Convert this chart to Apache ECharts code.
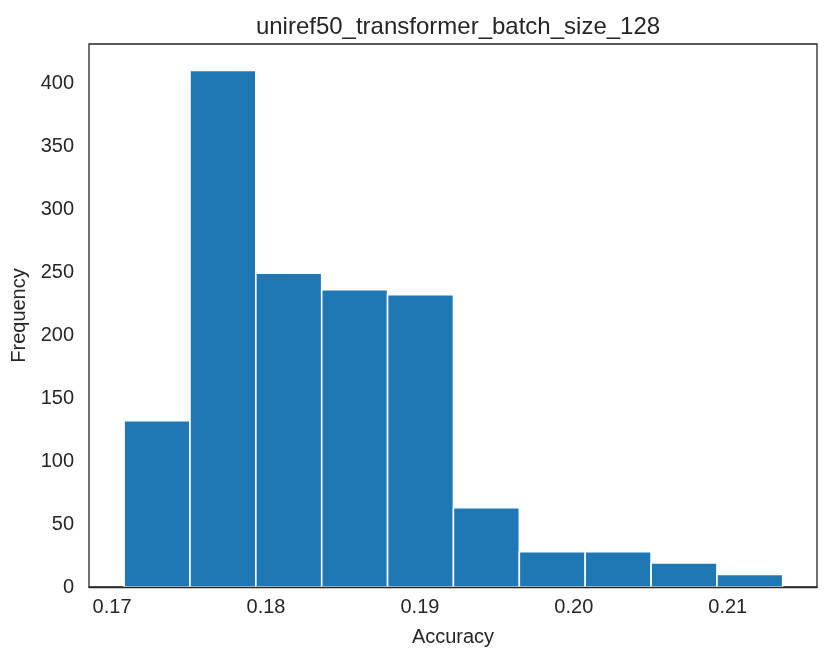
<!DOCTYPE html>
<html>
<head>
<meta charset="utf-8">
<script src="https://cdn.jsdelivr.net/npm/echarts@6/dist/echarts.min.js"></script>
<style>
  html, body { margin: 0; padding: 0; background: #fff; }
  #chart { width: 831px; height: 661px; }
</style>
</head>
<body>
<div id="chart"></div>
<script>
// histogram bins (left/right edges) and counts
const binEdges = [0.17078, 0.17506, 0.17934, 0.18362, 0.18790, 0.19218, 0.19646, 0.20074, 0.20502, 0.20930, 0.21357]
const counts = [132, 410, 249, 236, 232, 63, 28, 28, 19, 10]
const xTicks = [0.17, 0.18, 0.19, 0.20, 0.21]
const yTicks = [0, 50, 100, 150, 200, 250, 300, 350, 400]

const bars = counts.map((c, i) => [binEdges[i], binEdges[i + 1], c])

const chart = echarts.init(document.getElementById('chart'))
const textColor = '#262626'
const font = 'Liberation Sans, Arial, sans-serif'

chart.setOption({
  animation: false,
  title: {
    text: 'uniref50_transformer_batch_size_128',
    left: 453,
    textAlign: 'center',
    top: 10,
    textStyle: { color: textColor, fontFamily: font, fontSize: 24, fontWeight: 'normal' }
  },
  grid: {
    left: 89, right: 14, top: 44, bottom: 74,
    containLabel: false,
    outerBoundsMode: 'none',
    show: true,
    borderColor: textColor,
    borderWidth: 1.3,
    backgroundColor: '#fff'
  },
  xAxis: {
    type: 'value',
    min: 0.1685,
    max: 0.2158,
    z: 5,
    name: 'Accuracy',
    nameLocation: 'middle',
    nameGap: 40,
    nameTextStyle: { color: textColor, fontFamily: font, fontSize: 20 },
    axisLine: { show: true, lineStyle: { color: textColor, width: 1.3 } },
    axisTick: { show: false },
    splitLine: { show: false },
    axisLabel: {
      customValues: xTicks,
      formatter: v => v.toFixed(2),
      color: textColor, fontFamily: font, fontSize: 20, margin: 10
    }
  },
  yAxis: {
    type: 'value',
    min: 0,
    max: 431,
    name: 'Frequency',
    nameLocation: 'middle',
    nameGap: 57,
    nameTextStyle: { color: textColor, fontFamily: font, fontSize: 20 },
    axisLine: { show: false },
    axisTick: { show: false },
    splitLine: { show: false },
    axisLabel: {
      customValues: yTicks,
      color: textColor, fontFamily: font, fontSize: 20, margin: 15
    }
  },
  series: [{
    type: 'custom',
    data: bars,
    encode: { x: [0, 1], y: 2 },
    renderItem: (params, api) => {
      const p0 = api.coord([api.value(0), 0])
      const p1 = api.coord([api.value(1), api.value(2)])
      return {
        type: 'rect',
        shape: { x: p0[0], y: p1[1], width: p1[0] - p0[0], height: p0[1] - p1[1] },
        style: { fill: '#1f77b4', stroke: '#ffffff', lineWidth: 1.6 }
      }
    }
  }]
})
</script>
</body>
</html>
